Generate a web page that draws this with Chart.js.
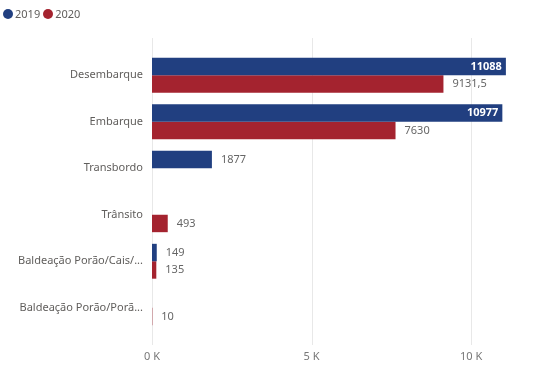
<!DOCTYPE html>
<html><head><meta charset="utf-8">
<script src="https://cdn.jsdelivr.net/npm/chart.js@4/dist/chart.umd.min.js"></script>
<style>
html,body{margin:0;padding:0;background:#fff;}
#wrap{position:relative;width:547px;height:367px;}
#legend{position:absolute;left:3px;top:6px;font:11px "Noto Sans",sans-serif;color:#605E5C;display:flex;align-items:center;}
#legend span.dot{display:inline-block;width:10px;height:10px;border-radius:50%;margin-right:2px;}
#legend span.item{display:flex;align-items:center;margin-right:3px;}
</style></head>
<body>
<div id="wrap">
<div id="legend"></div>
<canvas id="c" width="547" height="367"></canvas>
</div>
<script>
const categories = ["Desembarque","Embarque","Transbordo","Trânsito","Baldeação Porão/Cais/...","Baldeação Porão/Porã..."];
const seriesNames = ["2019","2020"];
const values2019 = [11088, 10977, 1877, null, 149, null];
const values2020 = [9131.5, 7630, null, 493, 135, 10];
const xTickValues = [0, 5000, 10000];
const xTickLabels = ["0 K","5 K","10 K"];
const colors = ["#213F80","#A4232F"];

const leg = document.getElementById('legend');
seriesNames.forEach((n,i)=>{
  const s=document.createElement('span');s.className='item';
  s.innerHTML='<span class="dot" style="background:'+colors[i]+'"></span>'+n;
  leg.appendChild(s);
});

function fmt(v){ return String(v).replace('.', ','); }

const gridPlugin = {
  id:'grid',
  beforeDatasetsDraw(chart){
    const ctx=chart.ctx, xs=chart.scales.x;
    ctx.save();
    ctx.strokeStyle='#E8E8E8'; ctx.lineWidth=1;
    xTickValues.forEach(v=>{
      const x=Math.round(xs.getPixelForValue(v))+0.5;
      ctx.beginPath(); ctx.moveTo(x,38); ctx.lineTo(x,345); ctx.stroke();
    });
    ctx.restore();
  }
};
const labelPlugin = {
  id:'labels',
  afterDatasetsDraw(chart){
    const ctx=chart.ctx;
    ctx.save();
    ctx.textBaseline='middle';
    chart.data.datasets.forEach((ds,di)=>{
      const meta=chart.getDatasetMeta(di);
      meta.data.forEach((bar,i)=>{
        const v=ds.data[i];
        if(v===null||v===undefined) return;
        const txt=fmt(v);
        if(di===0 && v>10000){
          ctx.font='bold 11px "Noto Sans",sans-serif';
          ctx.fillStyle='#FFFFFF'; ctx.textAlign='right';
          ctx.fillText(txt, bar.x-4, bar.y);
        } else {
          ctx.font='11px "Noto Sans",sans-serif';
          ctx.fillStyle='#666666'; ctx.textAlign='left';
          ctx.fillText(txt, bar.x+9, bar.y);
        }
      });
    });
    ctx.restore();
  }
};

new Chart(document.getElementById('c'),{
  type:'bar',
  data:{
    labels:categories,
    datasets:[
      {label:seriesNames[0],data:values2019,backgroundColor:colors[0],categoryPercentage:0.75,barPercentage:1.0},
      {label:seriesNames[1],data:values2020,backgroundColor:colors[1],categoryPercentage:0.75,barPercentage:1.0}
    ]
  },
  options:{
    indexAxis:'y',
    responsive:false,
    animation:false,
    layout:{padding:{top:52,right:12,left:0,bottom:0}},
    plugins:{legend:{display:false},tooltip:{enabled:false}},
    scales:{
      x:{
        min:0,max:12000,
        grid:{display:false,drawTicks:false},
        border:{display:false},
        afterBuildTicks(s){ s.ticks = xTickValues.map(v=>({value:v})); },
        afterFit(s){ s.height=36; },
        ticks:{padding:19,color:'#777777',font:{family:'"Noto Sans",sans-serif',size:11},
          callback(v){ const k=xTickValues.indexOf(v); return k>=0?xTickLabels[k]:''; }}
      },
      y:{
        grid:{display:false,drawTicks:false},
        border:{display:false},
        afterFit(s){ s.width=152; },
        ticks:{padding:9,color:'#605E5C',font:{family:'"Noto Sans",sans-serif',size:11}}
      }
    }
  },
  plugins:[gridPlugin,labelPlugin]
});
</script>
</body></html>
